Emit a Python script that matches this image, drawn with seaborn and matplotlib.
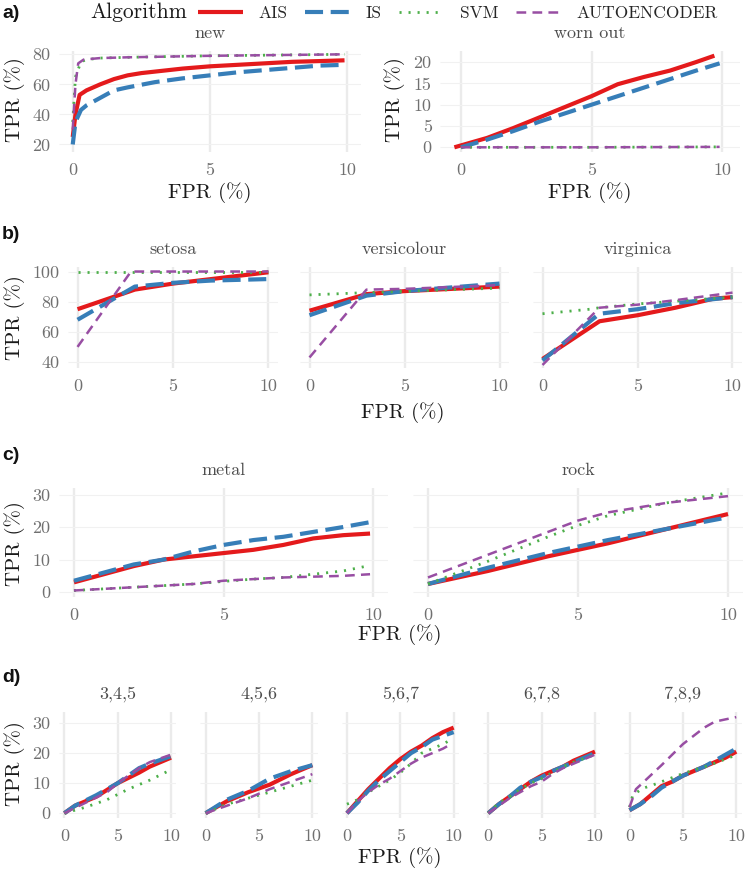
import pandas as pd
import matplotlib
matplotlib.use("Agg")
import matplotlib.pyplot as plt
import seaborn as sns

# algorithms and their look
algorithms = ["AIS", "IS", "SVM", "AUTOENCODER"]
palette = {"AIS": "#E41A1C", "IS": "#377EB8", "SVM": "#4DAF4A", "AUTOENCODER": "#984EA3"}
dashes = {"AIS": "", "IS": (13, 5.5), "SVM": (1.5, 5.0), "AUTOENCODER": (7, 4.5)}
widths = {"AIS": 3.0, "IS": 3.0, "SVM": 2.0, "AUTOENCODER": 1.8}

# ROC curves: {algorithm: (FPR %, TPR %)}
new = {
    "AIS": ([0, 0.1, 0.25, 0.5, 1, 1.5, 2, 2.5, 3, 4, 5, 6, 7, 8, 9, 9.9],
            [25, 40, 53, 56, 60, 63.5, 66, 67.5, 68.5, 70.5, 72, 73, 74, 75, 75.5, 76]),
    "IS": ([0, 0.1, 0.3, 0.5, 1, 1.5, 2, 3, 4, 5, 6, 7, 8, 9, 9.9],
           [20, 35, 43, 46, 51, 56, 58, 61.5, 64, 66, 68, 69.5, 71, 72.5, 73]),
    "SVM": ([0, 0.1, 0.3, 0.5, 1, 2, 5, 9.9], [35, 65, 75, 76.5, 77.5, 78, 79, 80]),
    "AUTOENCODER": ([0, 0.1, 0.2, 0.4, 1, 2, 5, 9.9], [30, 60, 74, 76.5, 77.5, 78, 79, 80]),
}
worn_out = {
    "AIS": ([-0.25, 1, 2, 3, 4, 5, 6, 7, 8, 9, 9.7],
            [0, 2.2, 4.5, 7, 9.5, 12, 14.8, 16.5, 18, 20, 21.5]),
    "IS": ([0, 1, 2, 3, 4, 5, 6, 7, 8, 9, 9.9],
           [0, 1.8, 3.8, 6, 8, 10, 12, 14, 16, 18, 19.7]),
    "SVM": ([0, 5, 9.9], [0, 0, 0.1]),
    "AUTOENCODER": ([0, 5, 9.9], [0, 0, 0.1]),
}
setosa = {
    "AIS": ([0, 3, 5, 7, 10], [75, 88, 92, 95, 99.5]),
    "IS": ([0, 3, 5, 7, 10], [68, 90, 92.5, 94, 95]),
    "SVM": ([0, 10], [100, 100]),
    "AUTOENCODER": ([0, 2.8, 10], [50, 100, 100]),
}
versicolour = {
    "AIS": ([0, 3, 5, 10], [74, 85, 87, 90]),
    "IS": ([0, 3, 5, 10], [71, 84, 87, 92]),
    "SVM": ([0, 3, 10], [84.5, 86, 89]),
    "AUTOENCODER": ([0, 3, 5, 10], [43, 88, 88.5, 91]),
}
virginica = {
    "AIS": ([0, 3, 5, 7, 9, 10], [42, 67, 71, 76, 82, 83]),
    "IS": ([0, 2.6, 3, 5, 7, 10], [41, 68, 72, 75, 79, 83]),
    "SVM": ([0, 2.5, 3, 5, 10], [72, 75, 76, 78.5, 83]),
    "AUTOENCODER": ([0, 3, 5, 7, 10], [38, 76, 78, 81, 86]),
}
metal = {
    "AIS": ([0, 1, 2, 3, 4, 5, 6, 7, 8, 9, 9.9],
            [3, 5.5, 8, 10, 11, 12, 13, 14.5, 16.5, 17.5, 18]),
    "IS": ([0, 1, 2, 3, 4, 5, 6, 7, 8, 9, 9.9],
           [3.5, 6, 8.5, 10, 12.5, 14.5, 16, 17, 18.5, 20, 21.5]),
    "SVM": ([0, 2, 4, 5, 6, 7, 8, 9, 9.9], [0.5, 1.5, 2.5, 3.3, 4, 4.5, 5.5, 6.5, 8.2]),
    "AUTOENCODER": ([0, 2, 4, 5, 7, 9, 9.9], [0.5, 1.5, 2.5, 3.5, 4.5, 5, 5.5]),
}
rock = {
    "AIS": ([0, 2, 4, 5, 6, 8, 10], [2.5, 6.5, 11, 13, 15, 19.5, 24]),
    "IS": ([0, 2, 4, 5, 6, 8, 10], [2.5, 7.5, 12, 14, 16, 19.5, 23]),
    "SVM": ([0, 2, 4, 5, 6, 8, 10], [2.5, 9.5, 17, 20.5, 23.5, 27.5, 30.5]),
    "AUTOENCODER": ([0, 2, 4, 5, 6, 7, 8, 9, 10], [4.5, 11.5, 18.5, 22, 24.5, 26, 27.5, 28.5, 29.5]),
}
w345 = {
    "AIS": ([0, 1, 3, 5, 7, 8, 9, 10], [0, 2.5, 5.5, 10, 13.5, 15.5, 17, 18.5]),
    "IS": ([0, 1, 3, 5, 7, 8, 10], [0, 2.5, 6, 10, 15, 16.5, 19]),
    "SVM": ([0, 2, 4, 6, 8, 10], [0, 2, 4.5, 8, 11, 14.5]),
    "AUTOENCODER": ([0, 2, 4, 5, 7, 8, 10], [0, 3.5, 7, 10, 15, 17, 19.5]),
}
w456 = {
    "AIS": ([0, 2, 4, 6, 8, 10], [0, 4, 7, 9.5, 13, 16]),
    "IS": ([0, 2, 4, 5, 6, 8, 10], [0, 4.5, 7.5, 9.5, 11.5, 14, 16]),
    "SVM": ([0, 2, 4, 6, 8, 10], [0, 3, 5, 7, 9, 11]),
    "AUTOENCODER": ([0, 2, 4, 6, 8, 10], [0, 2.5, 5, 8, 10.5, 13]),
}
w567 = {
    "AIS": ([0, 1, 2, 3, 4, 5, 6, 7, 8, 9, 10],
            [0, 4, 8, 11.5, 15, 18, 20.5, 22.5, 25, 27, 28.5]),
    "IS": ([0, 1, 2, 3, 4, 5, 6, 7, 8, 10], [0, 3.5, 7.5, 11, 14, 17, 20, 22, 24.5, 27]),
    "SVM": ([0, 1, 2, 3, 4, 5, 6, 7, 8, 9, 9.5],
            [3, 4.5, 7, 9, 11, 13.5, 16.5, 20, 21.5, 23, 24]),
    "AUTOENCODER": ([0, 1, 2, 3, 4, 5, 6, 7, 8, 9, 9.5],
                    [0, 4, 7, 9.5, 11.5, 14, 16.5, 18.5, 20, 21.5, 22.5]),
}
w678 = {
    "AIS": ([0, 1, 2, 3, 4, 5, 6, 7, 8, 9, 10],
            [0, 3, 5.5, 8, 10.5, 12.5, 14, 15.5, 17.5, 19, 20.5]),
    "IS": ([0, 1, 2, 3, 4, 5, 6, 7, 8, 9, 10],
           [0, 3, 5.5, 8.5, 10.5, 12, 14, 15.5, 17, 18.5, 20]),
    "SVM": ([0, 1, 2, 3, 4, 5, 6, 7, 8, 10], [0, 3.5, 5.5, 8, 10, 11.5, 13.5, 15.5, 17, 19.5]),
    "AUTOENCODER": ([0, 1, 2, 3, 4, 5, 6, 7, 8, 9, 10],
                    [0, 2.5, 5, 7, 9, 10.5, 13, 15, 16.5, 18, 19.5]),
}
w789 = {
    "AIS": ([0, 1, 2, 3, 4, 5, 6, 7, 8, 9, 10],
            [1, 3, 6, 9, 10.5, 12.5, 14, 15.5, 17, 18.5, 20.5]),
    "IS": ([0, 1, 2, 3, 4, 5, 6, 7, 8, 9, 10],
           [1, 3, 5.5, 8.5, 10.5, 12.5, 14, 15.5, 17.5, 19.5, 21.5]),
    "SVM": ([0, 0.3, 1.2, 2.5, 5, 7.5, 10], [2, 6, 8.2, 9.8, 13.2, 16, 19.4]),
    "AUTOENCODER": ([0, 0.6, 1.5, 3, 5, 7, 8, 10], [2, 8, 11, 16, 23, 28.5, 30.5, 32]),
}

curves = {"new": new, "worn out": worn_out, "setosa": setosa, "versicolour": versicolour,
          "virginica": virginica, "metal": metal, "rock": rock, "3,4,5": w345,
          "4,5,6": w456, "5,6,7": w567, "6,7,8": w678, "7,8,9": w789}

rows = []
for panel, algs in curves.items():
    for alg, (fpr, tpr) in algs.items():
        for x, y in zip(fpr, tpr):
            rows.append({"panel": panel, "Algorithm": alg, "FPR": x, "TPR": y})
df = pd.DataFrame(rows)

sns.set_theme(style="white")
plt.rcParams["font.family"] = ["cmr10", "DejaVu Serif"]
plt.rcParams["axes.formatter.use_mathtext"] = True
plt.rcParams["lines.scale_dashes"] = False
plt.rcParams["lines.solid_capstyle"] = "butt"
plt.rcParams["lines.dash_capstyle"] = "butt"

W, H = 747, 873
fig = plt.figure(figsize=(W / 100, H / 100), dpi=100)

TICK_C = "#707070"
TITLE_C = "#1A1A1A"
STRIP_C = "#4D4D4D"


def fig_xy(x, y):
    return x / W, 1 - y / H


def make_axes(left, top, right, bottom):
    return fig.add_axes([left / W, 1 - bottom / H, (right - left) / W, (bottom - top) / H])


def draw_panel(rect, name, xlim, ylim, yticks, show_y, legend=False):
    ax = make_axes(*rect)
    sub = df[df["panel"] == name]
    sns.lineplot(data=sub, x="FPR", y="TPR", hue="Algorithm", style="Algorithm",
                 size="Algorithm", hue_order=algorithms, style_order=algorithms,
                 size_order=algorithms, palette=palette, dashes=dashes, sizes=widths,
                 estimator=None, sort=False, legend=legend, ax=ax)
    ax.set_xlim(*xlim)
    ax.set_ylim(*ylim)
    ax.set_xticks([0, 5, 10])
    ax.set_yticks(yticks)
    ax.set_xticklabels(["0", "5", "10"])
    if show_y:
        ax.set_yticklabels([str(t) for t in yticks])
    else:
        ax.set_yticklabels([])
    ax.set_xlabel("")
    ax.set_ylabel("")
    for s in ax.spines.values():
        s.set_visible(False)
    ax.xaxis.grid(True, color="#EBEBEB", linewidth=1.7)
    ax.yaxis.grid(True, color="#F1F1F1", linewidth=0.8)
    ax.set_axisbelow(True)
    ax.tick_params(length=0, labelsize=13, labelcolor=TICK_C)
    ax.tick_params(axis="x", pad=8)
    ax.tick_params(axis="y", pad=6)
    cx = (rect[0] + rect[2]) / 2
    fig.text(*fig_xy(cx, rect[1] - 18), name, ha="center", va="center",
             fontsize=13, color=STRIP_C)
    return ax


def y_title(x, y):
    fig.text(*fig_xy(x, y), "TPR (%)", rotation=90, ha="center", va="center",
             fontsize=15, color=TITLE_C)


def x_title(x, y):
    fig.text(*fig_xy(x, y), "FPR (%)", ha="center", va="center", fontsize=15, color=TITLE_C)


def tag(y, s):
    fig.text(*fig_xy(2, y), s, ha="left", va="center", fontsize=14, fontweight="bold",
             family="Liberation Sans", color="#111111")


# row a
ax0 = draw_panel((59, 51, 361, 152), "new", (-0.5, 10.5), (15, 82.2), [20, 40, 60, 80], True,
                 legend=True)
draw_panel((440, 51, 740, 152), "worn out", (-0.8, 10.68), (-1.1, 22.6), [0, 5, 10, 15, 20], True)
y_title(15, 100)
y_title(395, 100)
x_title(210, 193)
x_title(590, 193)
tag(13, "a)")

# row b
b_lim = (36, 103)
draw_panel((68, 267, 278, 368), "setosa", (-0.5, 10.5), b_lim, [40, 60, 80, 100], True)
draw_panel((300, 267, 509, 368), "versicolour", (-0.5, 10.5), b_lim, [40, 60, 80, 100], False)
draw_panel((533, 267, 742, 368), "virginica", (-0.5, 10.5), b_lim, [40, 60, 80, 100], False)
y_title(15, 318)
x_title(403, 413)
tag(235, "b)")

# row c
c_lim = (-1.5, 32)
draw_panel((59, 488, 388, 597), "metal", (-0.5, 10.5), c_lim, [0, 10, 20, 30], True)
draw_panel((413, 488, 743, 597), "rock", (-0.5, 10.5), c_lim, [0, 10, 20, 30], False)
y_title(15, 544)
x_title(400, 635)
tag(455, "c)")

# row d
d_lim = (-1.6, 33.7)
for i, name in enumerate(["3,4,5", "4,5,6", "5,6,7", "6,7,8", "7,8,9"]):
    left = 59 + i * 141.3
    draw_panel((left, 712, left + 117.4, 818), name, (-0.5, 10.5), d_lim, [0, 10, 20, 30], i == 0)
y_title(15, 764)
x_title(400, 858)
tag(677, "d)")

# shared legend on top
handles, labels = ax0.get_legend_handles_labels()
ax0.get_legend().remove()
keep = [(h, l) for h, l in zip(handles, labels) if l in algorithms]
fig.text(*fig_xy(90, 12), "Algorithm", ha="left", va="center", fontsize=15.5, color=TITLE_C)
fig.legend([h for h, _ in keep], [l for _, l in keep], loc="center left",
           bbox_to_anchor=fig_xy(198, 13), ncol=4, frameon=False, fontsize=12.5,
           handlelength=2.6, handletextpad=0.9, columnspacing=1.0, borderpad=0,
           borderaxespad=0)

fig.savefig("out.png", dpi=100)
